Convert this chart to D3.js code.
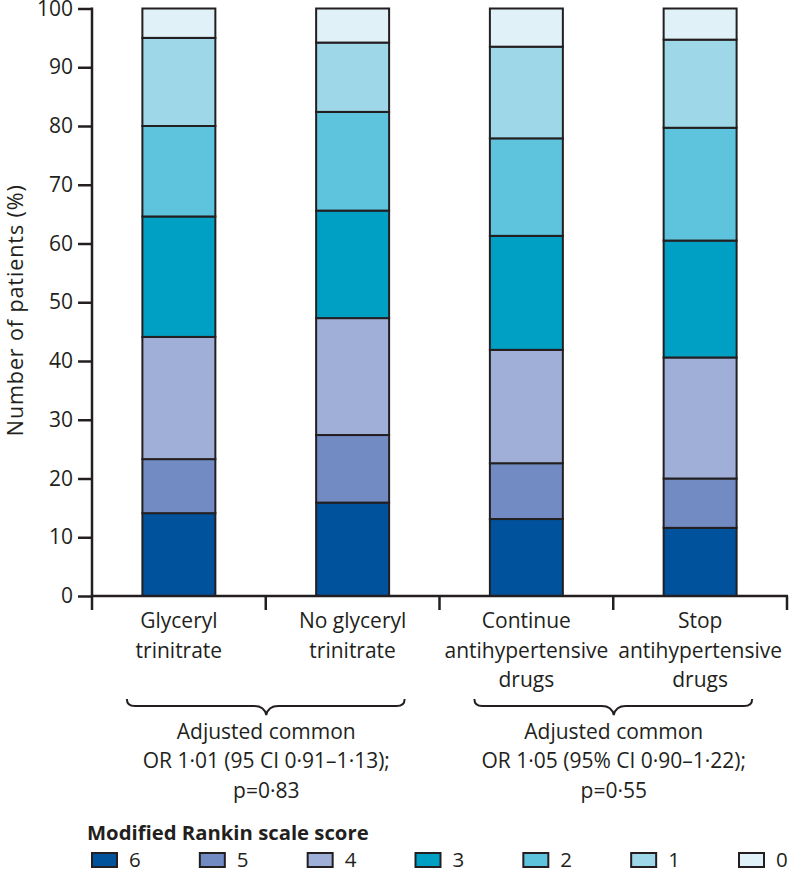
<!DOCTYPE html>
<html>
<head>
<meta charset="utf-8">
<script src="https://cdn.jsdelivr.net/npm/d3@7"></script>
<style>
  html, body { margin: 0; padding: 0; background: #ffffff; }
  svg { display: block; }
  text { font-family: "Open Sans", "Liberation Sans", sans-serif; fill: #231f20; }
</style>
</head>
<body>
<svg id="chart" width="789" height="873"></svg>
<script>
// ---------- data ----------
const categories = [
  ["Glyceryl", "trinitrate"],
  ["No glyceryl", "trinitrate"],
  ["Continue", "antihypertensive", "drugs"],
  ["Stop", "antihypertensive", "drugs"]
];
const categoryKeys = ["GTN", "NoGTN", "Continue", "Stop"];
const scoreKeys = ["6", "5", "4", "3", "2", "1", "0"];   // bottom to top
const mrs6 = [14.1, 15.9, 13.1, 11.6];
const mrs5 = [9.2, 11.5, 9.5, 8.4];
const mrs4 = [20.8, 19.9, 19.3, 20.6];
const mrs3 = [20.5, 18.3, 19.4, 19.9];
const mrs2 = [15.4, 16.8, 16.6, 19.2];
const mrs1 = [15.0, 11.8, 15.6, 15.0];
const mrs0 = [5.0, 5.8, 6.5, 5.3];
const scoreColors = ["#00529c", "#728bc3", "#a0afd7", "#00a0c5", "#5ec3dc", "#9dd7e8", "#e0f1f7"];
const yTicks = [0, 10, 20, 30, 40, 50, 60, 70, 80, 90, 100];
const yLabel = "Number of patients (%)";
const groupNotes = [
  { from: 0, to: 1, lines: ["Adjusted common", "OR 1\u00b701 (95 CI 0\u00b791\u20131\u00b713);", "p=0\u00b783"] },
  { from: 2, to: 3, lines: ["Adjusted common", "OR 1\u00b705 (95% CI 0\u00b790\u20131\u00b722);", "p=0\u00b755"] }
];
const legendTitle = "Modified Rankin scale score";

// ---------- build table ----------
const seriesArrays = { "6": mrs6, "5": mrs5, "4": mrs4, "3": mrs3, "2": mrs2, "1": mrs1, "0": mrs0 };
const table = categoryKeys.map((k, i) => {
  const row = { key: k };
  scoreKeys.forEach(s => row[s] = seriesArrays[s][i]);
  return row;
});
const stacked = d3.stack().keys(scoreKeys)(table);

// ---------- layout ----------
const ink = "#231f20";
const svg = d3.select("#chart");
const plotLeft = 92, plotRight = 787, plotTop = 8.5, plotBottom = 596;

const x = d3.scaleBand().domain(categoryKeys).range([plotLeft, plotRight]).paddingInner(0.58).paddingOuter(0.29);
const step = x.step();
const bandStart = k => x(k) - step * x.paddingInner() / 2;
const bandCenter = k => x(k) + x.bandwidth() / 2;
const y = d3.scaleLinear().domain([0, 100]).range([plotBottom, plotTop]);
const color = d3.scaleOrdinal().domain(scoreKeys).range(scoreColors);

// bars
svg.append("g").selectAll("g").data(stacked).join("g")
  .attr("fill", d => color(d.key))
  .selectAll("rect").data(d => d).join("rect")
  .attr("x", d => x(d.data.key))
  .attr("width", x.bandwidth())
  .attr("y", d => y(d[1]))
  .attr("height", d => y(d[0]) - y(d[1]))
  .attr("stroke", ink)
  .attr("stroke-width", 2);

// y axis
const yAxis = svg.append("g").attr("transform", `translate(${plotLeft},0)`)
  .call(d3.axisLeft(y).tickValues(yTicks).tickSize(14).tickPadding(5));
yAxis.select(".domain").remove();
yAxis.selectAll(".tick line").attr("stroke", ink).attr("stroke-width", 2.5);
yAxis.selectAll(".tick text").attr("font-size", 21).attr("fill", ink)
  .style("font-family", '"Open Sans", "Liberation Sans", sans-serif');
svg.append("line").attr("x1", plotLeft).attr("x2", plotLeft).attr("y1", y(100) - 1).attr("y2", plotBottom + 14)
  .attr("stroke", ink).attr("stroke-width", 2.5);

// x axis
svg.append("line").attr("x1", plotLeft).attr("x2", plotRight + 1).attr("y1", plotBottom).attr("y2", plotBottom)
  .attr("stroke", ink).attr("stroke-width", 2.5);
const boundaries = categoryKeys.map(bandStart).concat([bandStart(categoryKeys[3]) + step]);
svg.append("g").selectAll("line").data(boundaries.slice(1)).join("line")
  .attr("x1", d => d).attr("x2", d => d).attr("y1", plotBottom).attr("y2", plotBottom + 14)
  .attr("stroke", ink).attr("stroke-width", 2.5);

// category labels
const catG = svg.append("g");
categoryKeys.forEach((k, i) => {
  const t = catG.append("text").attr("text-anchor", "middle").attr("font-size", 21)
    .attr("x", bandCenter(k));
  categories[i].forEach((line, j) => {
    t.append("tspan").attr("x", bandCenter(k)).attr("y", 628 + j * 29.5).text(line);
  });
});

// y label
svg.append("text").attr("transform", `translate(23,${(plotTop + plotBottom) / 2 + 8}) rotate(-90)`)
  .attr("text-anchor", "middle").attr("font-size", 21.5).attr("letter-spacing", 0.9).text(yLabel);

// braces + notes
const braceY = 706, braceTop = 699, braceTip = 715;
groupNotes.forEach(g => {
  const x1 = bandCenter(categoryKeys[g.from]) - 52;
  const x2 = bandCenter(categoryKeys[g.to]) + 52;
  const xc = (bandCenter(categoryKeys[g.from]) + bandCenter(categoryKeys[g.to])) / 2 + 0.5;
  const p = d3.path();
  p.moveTo(x1, braceTop);
  p.quadraticCurveTo(x1, braceY, x1 + 8, braceY);
  p.lineTo(xc - 12, braceY);
  p.quadraticCurveTo(xc - 2, braceY, xc, braceTip);
  p.quadraticCurveTo(xc + 2, braceY, xc + 12, braceY);
  p.lineTo(x2 - 8, braceY);
  p.quadraticCurveTo(x2, braceY, x2, braceTop);
  svg.append("path").attr("d", p.toString()).attr("fill", "none")
    .attr("stroke", ink).attr("stroke-width", 2);
  g.lines.forEach((line, j) => {
    svg.append("text").attr("x", xc).attr("y", 739 + j * 29.3)
      .attr("text-anchor", "middle").attr("font-size", 21).text(line);
  });
});

// legend
svg.append("text").attr("x", 87).attr("y", 840).attr("font-size", 20.3)
  .attr("font-weight", "bold").text(legendTitle);
const legendX = d3.scalePoint().domain(scoreKeys).range([92, 739]);
const lg = svg.append("g").selectAll("g").data(scoreKeys).join("g")
  .attr("transform", d => `translate(${legendX(d)},853)`);
lg.append("rect").attr("width", 25).attr("height", 14)
  .attr("fill", d => color(d)).attr("stroke", ink).attr("stroke-width", 2);
lg.append("text").attr("x", 37).attr("y", 14).attr("font-size", 20.5).text(d => d);
</script>
</body>
</html>
